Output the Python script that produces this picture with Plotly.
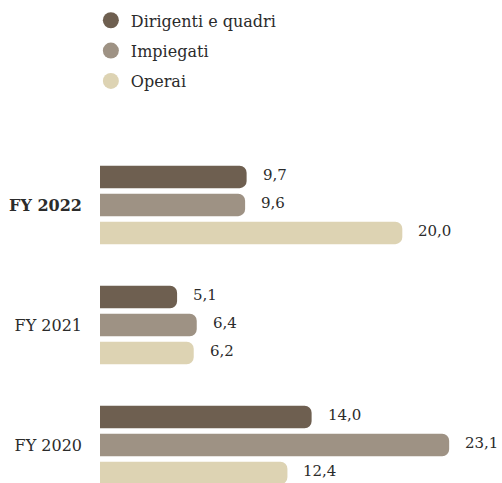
import plotly.graph_objects as go

categories = ["FY 2020", "FY 2021", "FY 2022"]
tick_labels = ["FY 2020", "FY 2021", "<b>FY 2022</b>"]
series_names = ["Dirigenti e quadri", "Impiegati", "Operai"]
dirigenti = [14.0, 5.1, 9.7]
impiegati = [23.1, 6.4, 9.6]
operai = [12.4, 6.2, 20.0]
colors = ["#6e5f50", "#9e9284", "#ddd3b3"]

FONT = "DejaVu Serif"
TXT = "#2b2b2b"

series = [dirigenti, impiegati, operai]
fig = go.Figure()
# reversed trace order so that first series appears on top within each group
for name, vals, col in list(zip(series_names, series, colors))[::-1]:
    fig.add_trace(go.Bar(
        y=categories, x=vals, orientation="h", name=name,
        marker=dict(color=col, line=dict(width=0)),
        showlegend=False, hoverinfo="skip",
    ))
for i, (name, col) in enumerate(zip(series_names, colors)):
    fig.add_trace(go.Scatter(
        x=[None], y=[None], mode="markers", name=name, legendgroup=f"g{i}",
        marker=dict(color=col, size=19, symbol="circle"),
    ))

offsets = [-28, 0, 28]
annotations = []
for vals, off in zip(series, offsets):
    for cat, v in zip(categories, vals):
        annotations.append(dict(
            x=v, y=cat, xref="x", yref="y", text=f"{v:.1f}".replace(".", ","),
            showarrow=False, xanchor="left", yanchor="middle",
            xshift=14, yshift=-off + 2,
            font=dict(family=FONT, size=15, color=TXT),
        ))

fig.update_layout(
    width=502, height=483,
    margin=dict(l=100, r=9, t=150, b=0, autoexpand=False),
    paper_bgcolor="white", plot_bgcolor="white",
    barmode="group", bargap=0.3, bargroupgap=0.2,
    barcornerradius=7,
    font=dict(family=FONT, size=15, color=TXT),
    xaxis=dict(range=[0, 26], visible=False, fixedrange=True),
    yaxis=dict(
        categoryorder="array", categoryarray=categories,
        tickmode="array", tickvals=categories, ticktext=tick_labels,
        range=[-0.3167, 2.458], showgrid=False, zeroline=False,
        showline=False, ticks="", ticklabelstandoff=17,
        tickfont=dict(family=FONT, size=16, color=TXT),
    ),
    legend=dict(
        x=0.181, y=0.993, xref="container", yref="container",
        xanchor="left", yanchor="top",
        font=dict(family=FONT, size=16, color=TXT),
        tracegroupgap=6.5, itemsizing="trace", itemwidth=30,
        bgcolor="rgba(0,0,0,0)",
    ),
    annotations=annotations,
)

fig.write_html("out.html")
